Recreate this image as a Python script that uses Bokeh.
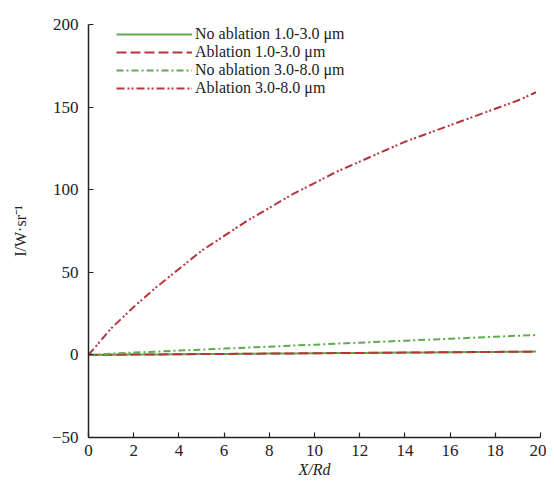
from bokeh.plotting import figure
from bokeh.embed import file_html
from bokeh.resources import INLINE
from bokeh.models import Range1d, FixedTicker, Legend, LegendItem

# Data
x_vals = [0, 1, 2, 3, 4, 5, 6, 7, 8, 9, 10, 11, 12, 13, 14, 15, 16, 17, 18, 19, 19.8]
no_abl_1_3 = [0, 0.1, 0.2, 0.3, 0.4, 0.5, 0.6, 0.7, 0.8, 0.9, 1.0, 1.1, 1.2, 1.3, 1.4, 1.5, 1.6, 1.7, 1.8, 1.9, 2.0]
abl_1_3 = [0, 0.1, 0.2, 0.3, 0.4, 0.5, 0.6, 0.7, 0.8, 0.9, 1.0, 1.1, 1.2, 1.3, 1.4, 1.5, 1.6, 1.7, 1.8, 1.9, 2.0]
no_abl_3_8 = [0, 0.7, 1.4, 2.0, 2.6, 3.2, 3.8, 4.4, 5.0, 5.6, 6.2, 6.8, 7.4, 8.0, 8.6, 9.2, 9.8, 10.4, 11.0, 11.6, 12.0]
abl_3_8 = [0, 16, 29, 41, 52, 63, 72, 81, 89, 97, 104, 111, 117, 123, 129, 134, 139, 144, 149, 154, 159]

labels = ["No ablation 1.0-3.0 μm", "Ablation 1.0-3.0 μm",
          "No ablation 3.0-8.0 μm", "Ablation 3.0-8.0 μm"]
x_ticks = [0, 2, 4, 6, 8, 10, 12, 14, 16, 18, 20]
y_ticks = [-50, 0, 50, 100, 150, 200]

GREEN = "#5eab4c"
RED = "#b5353b"
FONT = "Liberation Serif"

p = figure(width=546, height=491, output_backend="svg", toolbar_location=None,
           x_range=Range1d(0, 20), y_range=Range1d(-50, 200),
           min_border_left=88, min_border_right=6, min_border_top=24, min_border_bottom=54)
p.outline_line_color = None
p.xgrid.grid_line_color = None
p.ygrid.grid_line_color = None

r1 = p.line(x_vals, no_abl_1_3, line_color=GREEN, line_width=2)
r2 = p.line(x_vals, abl_1_3, line_color=RED, line_width=2, line_dash="10 4")
r3 = p.line(x_vals, no_abl_3_8, line_color=GREEN, line_width=2, line_dash="7 3 2 3")
r4 = p.line(x_vals, abl_3_8, line_color=RED, line_width=2, line_dash="8 3 2 2 2 3")

legend = Legend(items=[LegendItem(label=labels[0], renderers=[r1]),
                       LegendItem(label=labels[1], renderers=[r2]),
                       LegendItem(label=labels[2], renderers=[r3]),
                       LegendItem(label=labels[3], renderers=[r4])],
                location=(28, 340), padding=0, margin=0, spacing=0,
                glyph_width=76, glyph_height=16, label_height=16, label_standoff=3,
                border_line_color=None, background_fill_alpha=0,
                label_text_font=FONT, label_text_font_size="16px", label_text_color="#222222")
p.add_layout(legend)

for ax in (p.xaxis, p.yaxis):
    ax.axis_line_color = "#222222"
    ax.axis_line_width = 1.5
    ax.major_tick_line_color = "#222222"
    ax.major_tick_line_width = 1.2
    ax.major_tick_in = 5
    ax.major_tick_out = 0
    ax.minor_tick_line_color = None
    ax.major_label_text_font = FONT
    ax.major_label_text_font_size = "17px"
    ax.major_label_text_color = "#222222"
    ax.axis_label_text_font = FONT
    ax.axis_label_text_font_size = "16px"
    ax.axis_label_text_color = "#222222"

p.xaxis.ticker = FixedTicker(ticks=x_ticks)
p.yaxis.ticker = FixedTicker(ticks=y_ticks)
p.yaxis.major_label_overrides = {-50: "\u221250"}
p.xaxis.major_label_standoff = 7
p.yaxis.major_label_standoff = 10
p.xaxis.axis_label = "X/Rd"
p.xaxis.axis_label_text_font_style = "italic"
p.xaxis.axis_label_standoff = 2
p.yaxis.axis_label = "I/W·sr⁻¹"
p.yaxis.axis_label_text_font_style = "normal"
p.yaxis.axis_label_standoff = 20

open("out.html", "w").write(file_html(p, INLINE))
